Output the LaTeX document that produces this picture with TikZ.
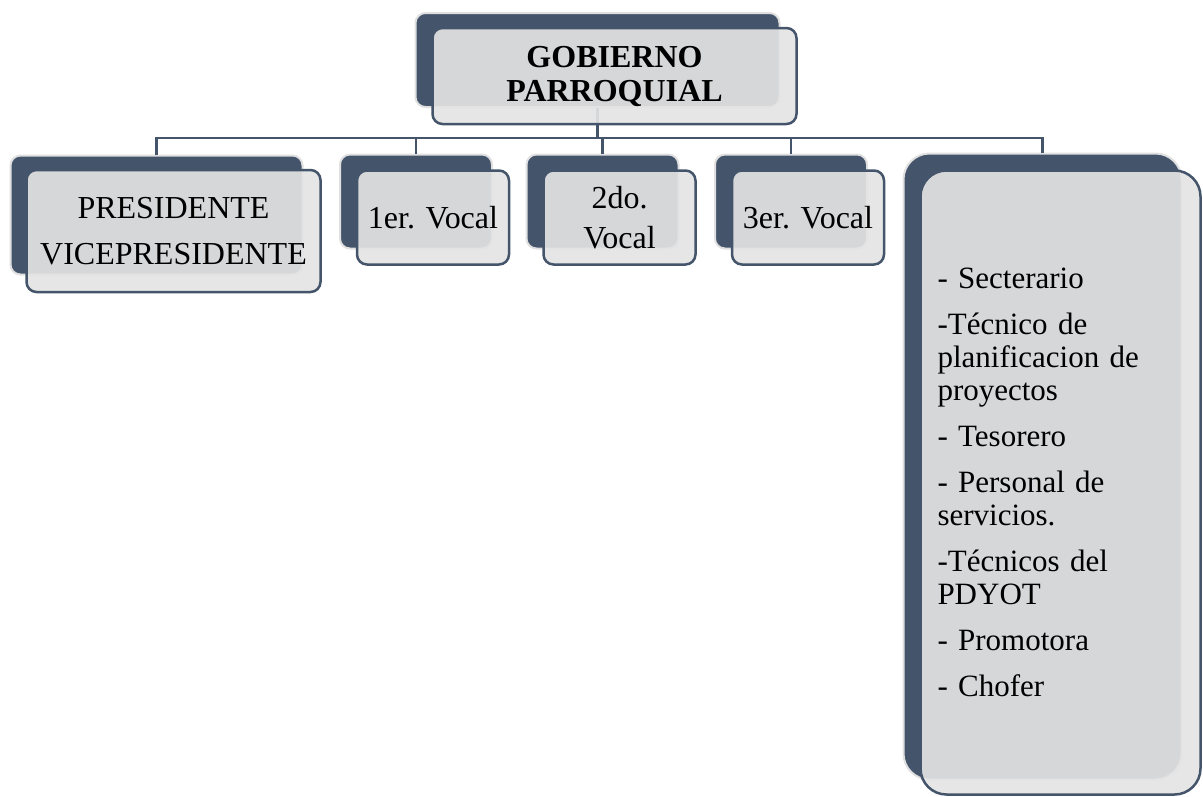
\documentclass[tikz,border=0pt]{standalone}
\usepackage{fontspec}
\setmainfont{Liberation Serif}
\usepackage{tikz}
\usetikzlibrary{calc, positioning}
\definecolor{oscuro}{RGB}{68, 84, 106}
\definecolor{claro}{RGB}{228, 228, 228}
\definecolor{borde}{RGB}{224, 224, 224}
\tikzset{
    backnode/.style = {draw=borde, line width=2pt, fill=oscuro, rectangle, rounded corners=10pt, 
      inner sep=0pt},
    frontnode/.style = {draw=oscuro, line width=2.5pt, fill=claro, fill opacity=0.91, text opacity=1, 
      rectangle, rounded corners=10pt, inner sep=0pt, align=center, font=\fontsize{32}{35}\selectfont},
    vocalnode/.style = {minimum width=152pt, minimum height=94pt},
    connect/.style = {draw=oscuro, line width=2.2pt}
}

\begin{document}
\begin{tikzpicture}[x=1pt, y=-1pt]
\useasboundingbox (0,0) rectangle (1203,796);

% cajas de fondo
\node[backnode, name=gobB, minimum width=364pt, minimum height=94pt] at (597.5,60) {};
\node[backnode, name=presB, minimum width=292pt, minimum height=119pt] at (156.5,215) {};
\node[backnode, vocalnode, name=v1B] at (416,201.5) {};
\node[backnode, vocalnode, name=v2B] at (602.5,201.5) {};
\node[backnode, vocalnode, name=v3B] at (791,201.5) {};
\node[backnode, name=persB, rounded corners=26pt, minimum width=278pt, minimum height=626pt] at (1042.5,466.5) {};

% conectores
\draw[connect] (gobB.south) -- ++(0,30) -| (presB.north);
\draw[connect] (gobB.south) -- ++(0,30) -| (v1B.north);
\draw[connect] (gobB.south) -- ++(0,30) -| (v2B.north);
\draw[connect] (gobB.south) -- ++(0,30) -| (v3B.north);
\draw[connect] (gobB.south) -- ++(0,30) -| (persB.north);

% cajas de frente
\node[frontnode, name=gob, minimum width=364pt, minimum height=96pt, 
	font=\fontsize{32}{34}\selectfont\bfseries] at ($(gobB)+(17,16)$) {GOBIERNO\\PARROQUIAL};
\node[frontnode, name=pres, minimum width=294pt, minimum height=122pt] at ($(presB)+(17,16)$) 
	{PRESIDENTE\\[11pt]VICEPRESIDENTE};
\node[frontnode, vocalnode, name=v1] at ($(v1B)+(17,16)$) {1er. Vocal};
\node[frontnode, vocalnode, name=v2] at ($(v2B)+(17,16)$) {2do.\\[5pt]Vocal};
\node[frontnode, vocalnode, name=v3] at ($(v3B)+(17,16)$) {3er. Vocal};
\node[frontnode, name=pers, rounded corners=26pt, minimum width=280pt, minimum height=624pt, 
	text width=246pt, align=left, font=\fontsize{31}{33}\selectfont] at ($(persB)+(18,16)$) 
	{- Secterario\\[13pt]
	-Técnico de\\planificacion de\\proyectos\\[13pt]
	- Tesorero\\[13pt]
	- Personal de\\servicios.\\[13pt]
	-Técnicos del\\PDYOT\\[13pt]
	- Promotora\\[13pt]
	- Chofer};
\end{tikzpicture}
\end{document}
